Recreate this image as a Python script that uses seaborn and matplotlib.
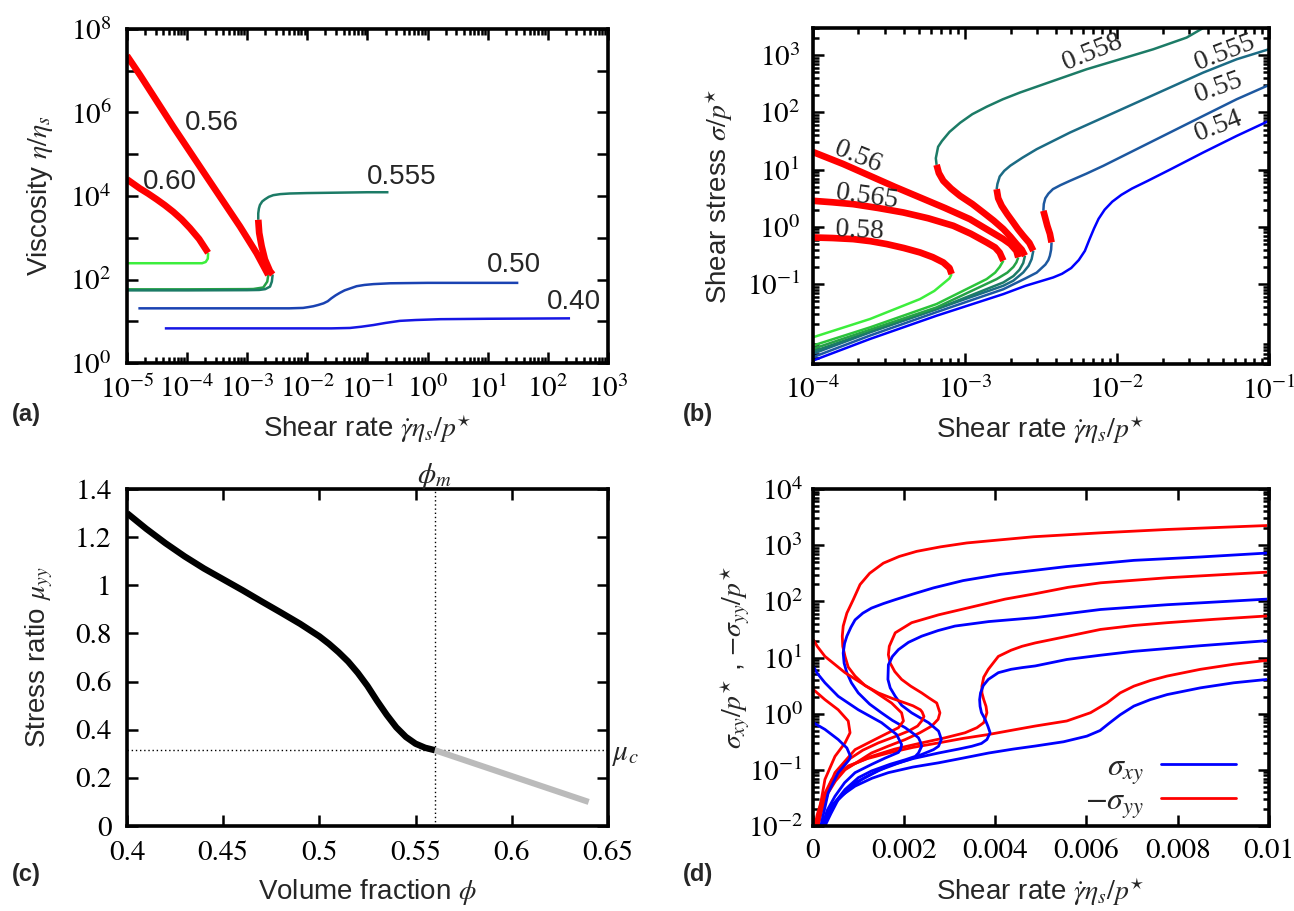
import numpy as np
import matplotlib
matplotlib.use("Agg")
import matplotlib.pyplot as plt
import seaborn as sns
from matplotlib.lines import Line2D
from matplotlib.ticker import LogLocator, NullFormatter

# ── DATA ──────────────────────────────────────────────────────────────────────
# log-axis curves are kept as (log10 x, log10 y) pairs

# (a) viscosity vs shear rate
a040 = ([-4.37, -3.5, -2.5, -1.6, -1.29, -1.1, -0.9, -0.7, -0.46, -0.2, 0.21, 1.0, 2.37],
        [0.83, 0.83, 0.83, 0.83, 0.84, 0.87, 0.91, 0.96, 1.01, 1.03, 1.05, 1.06, 1.07])
a050 = ([-4.81, -4.0, -3.0, -2.3, -2.07, -1.98, -1.9, -1.82, -1.73, -1.66, -1.6, -1.53, -1.46,
         -1.38, -1.3, -1.18, -1.05, -0.9, -0.62, 0.0, 1.51],
        [1.31, 1.31, 1.31, 1.31, 1.32, 1.34, 1.36, 1.39, 1.43, 1.48, 1.55, 1.62, 1.68,
         1.74, 1.78, 1.84, 1.87, 1.89, 1.91, 1.92, 1.92])
a0555_low = ([-5.0, -4.0, -3.0, -2.8, -2.7, -2.62, -2.59, -2.576],
             [1.74, 1.74, 1.745, 1.75, 1.77, 1.83, 1.95, 2.12])
a0555_red = ([-2.576, -2.621, -2.705, -2.76, -2.80, -2.816],
             [2.12, 2.20, 2.48, 2.80, 3.116, 3.43])
a0555_up = ([-2.816, -2.816, -2.805, -2.788, -2.75, -2.705, -2.64, -2.566, -2.45, -2.29, -2.01,
             -1.5, -1.0, -0.65],
            [3.43, 3.585, 3.70, 3.785, 3.87, 3.92, 3.98, 4.02, 4.045, 4.06, 4.07, 4.08, 4.09, 4.09])
a056_red = ([-5.0, -4.784, -4.23, -3.674, -3.12, -2.843, -2.649],
            [7.36, 6.90, 5.66, 4.46, 3.27, 2.63, 2.11])
a056_low = ([-5.0, -4.0, -3.0, -2.898, -2.732, -2.666, -2.649],
            [1.765, 1.765, 1.77, 1.773, 1.81, 1.95, 2.11])
a060_red = ([-5.0, -4.784, -4.65, -4.506, -4.37, -4.229, -4.09, -3.952, -3.80, -3.65],
            [4.40, 4.18, 4.06, 3.92, 3.78, 3.62, 3.44, 3.23, 2.97, 2.64])
a060_low = ([-5.0, -4.0, -3.75, -3.69, -3.655, -3.65],
            [2.39, 2.39, 2.39, 2.42, 2.5, 2.64])

# (b) shear stress vs shear rate
b054 = ([-4.0, -3.623, -3.185, -2.746, -2.6, -2.5, -2.418, -2.36, -2.30, -2.25, -2.21, -2.18,
         -2.15, -2.12, -2.08, -2.03, -1.97, -1.9, -1.8, -1.651, -1.432, -1.212, -1.0],
        [-2.34, -1.96, -1.553, -1.175, -1.03, -0.95, -0.884, -0.82, -0.72, -0.58, -0.42, -0.22,
         -0.03, 0.14, 0.30, 0.44, 0.56, 0.67, 0.80, 1.0, 1.30, 1.59, 1.853])
b055_low = ([-4.0, -3.623, -3.185, -2.746, -2.6, -2.527, -2.47, -2.45, -2.44, -2.432, -2.429],
            [-2.28, -1.90, -1.49, -1.09, -0.9, -0.80, -0.66, -0.58, -0.505, -0.40, -0.272])
b055_red = ([-2.429, -2.44, -2.457, -2.47, -2.483], [-0.272, -0.12, 0.019, 0.15, 0.281])
b055_up = ([-2.483, -2.48, -2.47, -2.45, -2.42, -2.37, -2.308, -2.2, -2.089, -1.87, -1.651,
            -1.432, -1.212, -1.0],
           [0.281, 0.40, 0.50, 0.58, 0.66, 0.73, 0.805, 0.93, 1.067, 1.358, 1.649, 1.94, 2.231, 2.48])
b0555_low = ([-4.0, -3.623, -3.185, -2.746, -2.68, -2.615, -2.58, -2.56, -2.549],
             [-2.22, -1.844, -1.437, -1.029, -0.94, -0.796, -0.68, -0.563, -0.418])
b0555_red = ([-2.549, -2.575, -2.615, -2.65, -2.681, -2.72, -2.757, -2.78, -2.79],
             [-0.418, -0.28, -0.156, -0.04, 0.077, 0.22, 0.368, 0.50, 0.659])
b0555_up = ([-2.79, -2.785, -2.77, -2.74, -2.70, -2.62, -2.527, -2.308, -2.089, -1.87, -1.651,
             -1.432, -1.212, -1.0],
            [0.659, 0.75, 0.88, 0.98, 1.07, 1.21, 1.358, 1.649, 1.911, 2.173, 2.435, 2.697, 2.93, 3.105])
b0558_low = ([-4.0, -3.623, -3.185, -2.746, -2.68, -2.64, -2.615, -2.604],
             [-2.182, -1.833, -1.437, -0.971, -0.86, -0.75, -0.63, -0.505])
b0558_red = ([-2.604, -2.625, -2.659, -2.70, -2.746, -2.81, -2.878, -2.95, -3.031, -3.09, -3.141,
              -3.17, -3.185],
             [-0.505, -0.40, -0.301, -0.17, -0.039, 0.11, 0.252, 0.40, 0.543, 0.67, 0.805, 0.94, 1.084])
b0558_up = ([-3.185, -3.19, -3.175, -3.15, -3.10, -3.03, -2.95, -2.856, -2.75, -2.637, -2.418,
             -2.199, -1.979, -1.76, -1.541, -1.43],
            [1.084, 1.20, 1.40, 1.50, 1.66, 1.82, 1.97, 2.10, 2.23, 2.348, 2.552, 2.755, 2.93,
             3.105, 3.309, 3.48])
b056_low = ([-4.0, -3.623, -3.185, -2.79, -2.72, -2.68, -2.66, -2.648],
            [-2.135, -1.798, -1.408, -0.913, -0.80, -0.70, -0.62, -0.534])
b056_red = ([-2.648, -2.66, -2.70, -2.746, -2.85, -2.966, -3.13, -3.294, -3.46, -3.623, -3.8, -4.0],
            [-0.534, -0.42, -0.30, -0.214, -0.05, 0.135, 0.33, 0.514, 0.70, 0.892, 1.10, 1.311])
b0565_low = ([-4.0, -3.623, -3.185, -2.856, -2.80, -2.77, -2.746],
             [-2.077, -1.757, -1.349, -0.913, -0.80, -0.70, -0.592])
b0565_red = ([-2.746, -2.77, -2.80, -2.856, -2.96, -3.075, -3.24, -3.404, -3.57, -3.733, -3.87, -4.0],
             [-0.592, -0.45, -0.36, -0.272, -0.12, 0.019, 0.15, 0.252, 0.33, 0.397, 0.43, 0.456])
b058_low = ([-4.0, -3.623, -3.294, -3.2, -3.141, -3.10, -3.086],
            [-1.932, -1.611, -1.262, -1.12, -0.99, -0.9, -0.825])
b058_red = ([-3.086, -3.10, -3.141, -3.21, -3.294, -3.40, -3.513, -3.62, -3.733, -3.87, -4.0],
            [-0.825, -0.72, -0.622, -0.53, -0.447, -0.37, -0.301, -0.25, -0.214, -0.195, -0.185])

# (c) stress ratio vs volume fraction
c_phi = [0.40, 0.41, 0.42, 0.43, 0.44, 0.45, 0.46, 0.47, 0.48, 0.49, 0.50, 0.505, 0.51, 0.515,
         0.52, 0.525, 0.53, 0.535, 0.54, 0.545, 0.55, 0.555, 0.56]
c_mu = [1.30, 1.235, 1.175, 1.12, 1.07, 1.025, 0.98, 0.933, 0.887, 0.840, 0.788, 0.757, 0.722,
        0.683, 0.636, 0.582, 0.52, 0.462, 0.41, 0.37, 0.342, 0.325, 0.315]
c_phi_ext = [0.56, 0.64]
c_mu_ext = [0.315, 0.10]
phi_m = 0.56
mu_c = 0.315

# (d) stresses vs shear rate: rate in units of 1e-3, log10 stress
RATE_UNIT = 1e-3
d054_xy = ([0.2, 0.28, 0.417, 0.6, 0.93, 1.3, 1.66, 2.2, 2.76, 3.3, 3.86, 4.4, 4.88, 5.5, 6.01, 6.3,
            6.5, 6.74, 7.04, 7.4, 7.77, 8.5, 9.23, 9.96],
           [-2.0, -1.85, -1.645, -1.48, -1.29, -1.15, -1.05, -0.95, -0.875, -0.79, -0.70, -0.63,
            -0.576, -0.5, -0.40, -0.3, -0.17, -0.02, 0.135, 0.25, 0.34, 0.46, 0.55, 0.61])
d054_yy = ([0.05, 0.1, 0.2, 0.42, 0.78, 1.2, 1.66, 2.2, 2.76, 3.3, 3.86, 4.4, 4.88, 5.57, 6.09,
            6.45, 6.74, 7.04, 7.4, 7.77, 8.5, 9.23, 9.96],
           [-2.0, -1.8, -1.53, -1.17, -0.93, -0.80, -0.70, -0.60, -0.52, -0.44, -0.37, -0.29,
            -0.22, -0.13, 0.017, 0.19, 0.37, 0.49, 0.59, 0.67, 0.79, 0.88, 0.95])
d055_xy = ([0.23, 0.32, 0.49, 0.7, 0.93, 1.3, 1.66, 2.2, 2.76, 3.2, 3.49, 3.7, 3.82, 3.89, 3.84,
            3.78, 3.70, 3.67, 3.66, 3.68, 3.74, 3.85, 4.07, 4.35, 4.59, 4.88, 5.57, 6.3, 7.04, 8.5, 9.96],
           [-2.0, -1.85, -1.59, -1.42, -1.23, -1.07, -0.93, -0.80, -0.70, -0.63, -0.58, -0.53, -0.46,
            -0.34, -0.22, -0.10, 0.02, 0.13, 0.25, 0.37, 0.50, 0.61, 0.73, 0.79, 0.82, 0.85, 0.965,
            1.04, 1.11, 1.21, 1.30])
d055_yy = ([0.09, 0.15, 0.27, 0.56, 0.9, 1.29, 1.8, 2.39, 2.9, 3.34, 3.6, 3.75, 3.82, 3.80, 3.75,
            3.71, 3.71, 3.75, 3.85, 4.07, 4.35, 4.59, 4.88, 5.6, 6.31, 7.04, 7.77, 8.8, 9.96],
           [-2.0, -1.75, -1.47, -1.05, -0.90, -0.76, -0.63, -0.52, -0.43, -0.34, -0.25, -0.16, 0.015,
            0.13, 0.25, 0.37, 0.49, 0.65, 0.79, 1.02, 1.13, 1.20, 1.26, 1.38, 1.50, 1.57, 1.62, 1.68, 1.74])
d0555_xy = ([0.27, 0.4, 0.56, 0.8, 1.08, 1.45, 1.88, 2.2, 2.47, 2.65, 2.76, 2.82, 2.79, 2.76, 2.54,
             2.17, 1.95, 1.81, 1.70, 1.65, 1.66, 1.75, 1.88, 2.1, 2.39, 2.75, 3.12, 3.86, 4.88, 6.31,
             7.77, 9.96],
            [-2.0, -1.78, -1.53, -1.33, -1.17, -1.01, -0.88, -0.79, -0.70, -0.64, -0.58, -0.46, -0.38,
             -0.31, -0.16, 0.015, 0.15, 0.31, 0.46, 0.61, 0.87, 1.02, 1.14, 1.27, 1.38, 1.48, 1.56,
             1.64, 1.71, 1.855, 1.94, 2.04])
d0555_yy = ([0.12, 0.2, 0.34, 0.5, 0.71, 1.0, 1.29, 1.65, 2.03, 2.35, 2.61, 2.75, 2.79, 2.72, 2.55,
             2.39, 2.15, 1.95, 1.80, 1.70, 1.66, 1.68, 1.81, 2.17, 2.76, 3.49, 4.22, 4.84, 5.6, 6.31,
             7.77, 9.96],
            [-2.0, -1.72, -1.41, -1.2, -1.0, -0.85, -0.70, -0.58, -0.46, -0.34, -0.22, -0.1, 0.015,
             0.19, 0.28, 0.37, 0.49, 0.61, 0.75, 0.90, 1.05, 1.2, 1.44, 1.62, 1.76, 1.90, 2.04, 2.13,
             2.25, 2.33, 2.42, 2.52])
d0558_xy = ([0.23, 0.3, 0.42, 0.71, 1.0, 1.29, 1.7, 2.03, 2.25, 2.32, 2.39, 2.36, 2.32, 2.2, 2.03,
             1.75, 1.51, 1.25, 1.0, 0.85, 0.75, 0.69, 0.67, 0.70, 0.75, 0.84, 0.93, 1.1, 1.29, 1.55,
             1.81, 2.2, 2.65, 3.3, 4.11, 5.57, 7.04, 8.5, 9.96],
            [-2.0, -1.85, -1.65, -1.35, -1.14, -1.02, -0.90, -0.82, -0.76, -0.70, -0.58, -0.50, -0.43,
             -0.35, -0.25, -0.12, 0.015, 0.17, 0.37, 0.55, 0.73, 0.9, 1.08, 1.25, 1.38, 1.54, 1.67,
             1.79, 1.88, 1.96, 2.03, 2.13, 2.24, 2.37, 2.48, 2.62, 2.73, 2.79, 2.86])
d0558_yy = ([0.11, 0.2, 0.42, 0.78, 1.1, 1.44, 1.8, 2.1, 2.3, 2.39, 2.44, 2.40, 2.36, 2.2, 2.03,
             1.75, 1.44, 1.15, 0.93, 0.78, 0.71, 0.66, 0.65, 0.67, 0.75, 0.89, 1.04, 1.25, 1.55,
             1.9, 2.28, 2.8, 3.38, 4.84, 6.31, 7.77, 9.96],
            [-2.0, -1.65, -1.23, -0.82, -0.65, -0.52, -0.41, -0.31, -0.22, -0.13, -0.05, 0.03, 0.07,
             0.14, 0.19, 0.27, 0.37, 0.50, 0.67, 0.83, 1.02, 1.2, 1.38, 1.56, 1.79, 2.03, 2.30, 2.50,
             2.68, 2.80, 2.89, 2.97, 3.04, 3.15, 3.22, 3.28, 3.35])
d056_xy = ([0.015, 0.1, 0.27, 0.56, 1.0, 1.51, 1.84, 1.95, 1.93, 1.88, 1.59, 1.3, 0.93, 0.7, 0.49, 0.32, 0.21],
           [0.845, 0.72, 0.55, 0.31, 0.07, -0.16, -0.37, -0.55, -0.63, -0.69, -0.79, -0.9, -1.05,
            -1.23, -1.47, -1.72, -2.0])
d056_yy = ([0.015, 0.1, 0.27, 0.71, 1.29, 1.73, 1.95, 1.99, 1.88, 1.51, 0.93, 0.49, 0.27, 0.11],
           [1.32, 1.2, 1.02, 0.73, 0.43, 0.19, 0.015, -0.13, -0.25, -0.40, -0.64, -1.05, -1.47, -2.0])
d058_xy = ([0.015, 0.27, 0.56, 0.75, 0.83, 0.80, 0.75, 0.56, 0.34, 0.18],
           [-0.16, -0.28, -0.46, -0.61, -0.76, -0.82, -0.87, -1.05, -1.41, -2.0])
d058_yy = ([0.015, 0.27, 0.56, 0.78, 0.82, 0.71, 0.49, 0.27, 0.09],
           [0.43, 0.25, 0.07, -0.13, -0.34, -0.52, -0.76, -1.17, -2.0])

# ── STYLE ─────────────────────────────────────────────────────────────────────
sns.set_theme(style="ticks")
plt.rcParams["font.family"] = ["Liberation Sans", "DejaVu Sans"]
plt.rcParams["mathtext.fontset"] = "stix"

RED = "#ff0000"
BLUE = "#0000ff"
C040, C050 = "#1616e4", "#1a42b2"
C055, C0555, C0558 = "#1d58a0", "#1b6b84", "#1c7b66"
C056, C0565, C058 = "#25a046", "#2bc43a", "#3cee3c"
FS = 20       # axis labels / annotations
TFS = 21      # tick labels
THIN, THICK = 1.8, 4.8


def trace(ax, xy, color, lw, logx=True, logy=True, xscale=1.0):
    x = np.power(10.0, xy[0]) if logx else np.asarray(xy[0]) * xscale
    y = np.power(10.0, xy[1]) if logy else np.asarray(xy[1])
    sns.lineplot(x=x, y=y, sort=False, estimator=None, color=color, linewidth=lw,
                 solid_capstyle="butt", solid_joinstyle="round", ax=ax)


def frame(ax, xpad, ypad):
    for s in ax.spines.values():
        s.set_linewidth(2.6)
        s.set_color("black")
    ax.tick_params(which="both", direction="in", top=True, right=True, width=1.8,
                   colors="black", labelsize=TFS, labelfontfamily="STIXGeneral")
    ax.tick_params(axis="x", which="both", pad=xpad)
    ax.tick_params(axis="y", which="both", pad=ypad)
    ax.tick_params(which="major", length=8)
    ax.tick_params(which="minor", length=4)


def pw(k):
    return f"$10^{{{k}}}$"


fig = plt.figure(figsize=(12.94, 9.11), dpi=100)
ax_a = fig.add_axes([0.0981, 0.6015, 0.3717, 0.3667])
ax_b = fig.add_axes([0.628, 0.6004, 0.3526, 0.3689])
ax_c = fig.add_axes([0.0981, 0.0933, 0.3717, 0.3699])
ax_d = fig.add_axes([0.628, 0.0933, 0.3526, 0.3699])

# ── (a) ───────────────────────────────────────────────────────────────────────
ax = ax_a
ax.set_xscale("log")
ax.set_yscale("log")
trace(ax, a040, C040, THIN)
trace(ax, a050, C050, THIN)
trace(ax, a060_low, C058, THIN)
trace(ax, a056_low, C056, THIN)
trace(ax, a0555_low, C0558, THIN)
trace(ax, a0555_up, C0558, THIN)
trace(ax, a060_red, RED, THICK)
trace(ax, a056_red, RED, THICK)
trace(ax, a0555_red, RED, THICK)
for txt, lx, ly in [("0.56", -4.035, 5.76), ("0.60", -4.73, 4.34), ("0.555", -1.01, 4.46),
                    ("0.50", 0.985, 2.35), ("0.40", 1.99, 1.47)]:
    ax.text(10 ** lx, 10 ** ly, txt, fontsize=FS, ha="left", va="center")
ax.set_xlim(1e-5, 1e3)
ax.set_ylim(1, 1e8)
ax.set_xticks([10.0 ** k for k in range(-5, 4)], [pw(k) for k in range(-5, 4)])
ax.xaxis.set_minor_locator(LogLocator(base=10, subs=np.arange(2, 10) * 1.0, numticks=60))
ax.xaxis.set_minor_formatter(NullFormatter())
ax.set_yticks([10.0 ** k for k in range(0, 9)],
              [pw(k) if k % 2 == 0 else "" for k in range(0, 9)])
ax.yaxis.set_minor_locator(plt.NullLocator())
frame(ax, 9, 11)
ax.set_xlabel(r"Shear rate $\dot{\gamma}\eta_s/p^{\star}$", fontsize=FS)
ax.set_ylabel(r"Viscosity $\eta/\eta_s$", fontsize=FS)
ax.xaxis.set_label_coords(0.5, -0.15)
ax.yaxis.set_label_coords(-0.15, 0.5)

# ── (b) ───────────────────────────────────────────────────────────────────────
ax = ax_b
ax.set_xscale("log")
ax.set_yscale("log")
trace(ax, b054, BLUE, THIN)
for low, up, col in [(b055_low, b055_up, C055), (b0555_low, b0555_up, C0555),
                     (b0558_low, b0558_up, C0558)]:
    trace(ax, low, col, THIN)
    trace(ax, up, col, THIN)
trace(ax, b056_low, C056, THIN)
trace(ax, b0565_low, C0565, THIN)
trace(ax, b058_low, C058, THIN)
for red in [b055_red, b0555_red, b0558_red, b056_red, b0565_red, b058_red]:
    trace(ax, red, RED, THICK)
for txt, lx, ly, rot in [("0.558", -2.16, 3.06, 22), ("0.555", -1.289, 3.04, 21),
                         ("0.55", -1.333, 2.43, 20), ("0.54", -1.333, 1.76, 21),
                         ("0.56", -3.70, 1.22, -22), ("0.565", -3.645, 0.53, -8),
                         ("0.58", -3.689, -0.07, -3)]:
    ax.text(10 ** lx, 10 ** ly, txt, fontsize=FS, family="Liberation Serif", ha="center",
            va="center", rotation=rot, rotation_mode="anchor")
ax.set_xlim(1e-4, 1e-1)
ax.set_ylim(4e-3, 3e3)
ax.set_xticks([10.0 ** k for k in range(-4, 0)], [pw(k) for k in range(-4, 0)])
ax.set_yticks([10.0 ** k for k in range(-1, 4)], [pw(k) for k in range(-1, 4)])
for axis in (ax.xaxis, ax.yaxis):
    axis.set_minor_locator(LogLocator(base=10, subs=np.arange(2, 10) * 1.0, numticks=60))
    axis.set_minor_formatter(NullFormatter())
frame(ax, 9, 9)
ax.set_xlabel(r"Shear rate $\dot{\gamma}\eta_s/p^{\star}$", fontsize=FS)
ax.set_ylabel(r"Shear stress $\sigma/p^{\star}$", fontsize=FS)
ax.xaxis.set_label_coords(0.5, -0.15)
ax.yaxis.set_label_coords(-0.17, 0.5)

# ── (c) ───────────────────────────────────────────────────────────────────────
ax = ax_c
ax.axvline(phi_m, color="black", lw=1.0, ls=(0, (1, 2)))
ax.axhline(mu_c, color="black", lw=1.0, ls=(0, (1, 2)))
trace(ax, (c_phi_ext, c_mu_ext), "#bbbbbb", 4.4, logx=False, logy=False)
trace(ax, (c_phi, c_mu), "black", 4.6, logx=False, logy=False)
ax.set_xlim(0.4, 0.65)
ax.set_ylim(0, 1.4)
ax.set_xticks([0.4, 0.45, 0.5, 0.55, 0.6, 0.65], ["0.4", "0.45", "0.5", "0.55", "0.6", "0.65"])
ax.set_yticks([0, 0.2, 0.4, 0.6, 0.8, 1.0, 1.2, 1.4],
              ["0", "0.2", "0.4", "0.6", "0.8", "1", "1.2", "1.4"])
frame(ax, 11, 11)
ax.text(phi_m, 1.455, r"$\phi_m$", fontsize=FS + 1, ha="center", va="center")
ax.text(0.652, 0.30, r"$\mu_c$", fontsize=FS + 1, ha="left", va="center", clip_on=False)
ax.set_xlabel(r"Volume fraction $\phi$", fontsize=FS)
ax.set_ylabel(r"Stress ratio $\mu_{yy}$", fontsize=FS)
ax.xaxis.set_label_coords(0.5, -0.15)
ax.yaxis.set_label_coords(-0.15, 0.5)

# ── (d) ───────────────────────────────────────────────────────────────────────
ax = ax_d
ax.set_yscale("log")
for xy, yy in [(d054_xy, d054_yy), (d055_xy, d055_yy), (d0555_xy, d0555_yy),
               (d0558_xy, d0558_yy), (d056_xy, d056_yy), (d058_xy, d058_yy)]:
    trace(ax, yy, RED, 2.0, logx=False, xscale=RATE_UNIT)
    trace(ax, xy, BLUE, 2.0, logx=False, xscale=RATE_UNIT)
ax.set_xlim(0, 0.01)
ax.set_ylim(1e-2, 1e4)
ax.set_xticks([0, 0.002, 0.004, 0.006, 0.008, 0.01],
              ["0", "0.002", "0.004", "0.006", "0.008", "0.01"])
ax.set_yticks([10.0 ** k for k in range(-2, 5)], [pw(k) for k in range(-2, 5)])
ax.yaxis.set_minor_locator(LogLocator(base=10, subs=np.arange(2, 10) * 1.0, numticks=60))
ax.yaxis.set_minor_formatter(NullFormatter())
frame(ax, 9, 7)
handles = [Line2D([], [], color=BLUE, lw=2), Line2D([], [], color=RED, lw=2)]
ax.legend(handles, [r"$\sigma_{xy}$", r"$-\sigma_{yy}$"], loc="lower right",
          bbox_to_anchor=(0.99, -0.07), frameon=False, markerfirst=False, handlelength=2.35,
          fontsize=23, labelspacing=0.0, handletextpad=0.5)
ax.set_xlabel(r"Shear rate $\dot{\gamma}\eta_s/p^{\star}$", fontsize=FS)
ax.set_ylabel(r"$\sigma_{xy}/p^{\star}$ , $-\sigma_{yy}/p^{\star}$", fontsize=FS)
ax.xaxis.set_label_coords(0.5, -0.15)
ax.yaxis.set_label_coords(-0.135, 0.5)

# ── panel letters ────────────────────────────────────────────────────────────
for letter, x, y in [("(a)", 0.009, 0.545), ("(b)", 0.528, 0.545),
                     ("(c)", 0.009, 0.04), ("(d)", 0.528, 0.04)]:
    fig.text(x, y, letter, fontsize=17, fontweight="bold", ha="left", va="center")

fig.savefig("out.png", dpi=100)
plt.close(fig)
